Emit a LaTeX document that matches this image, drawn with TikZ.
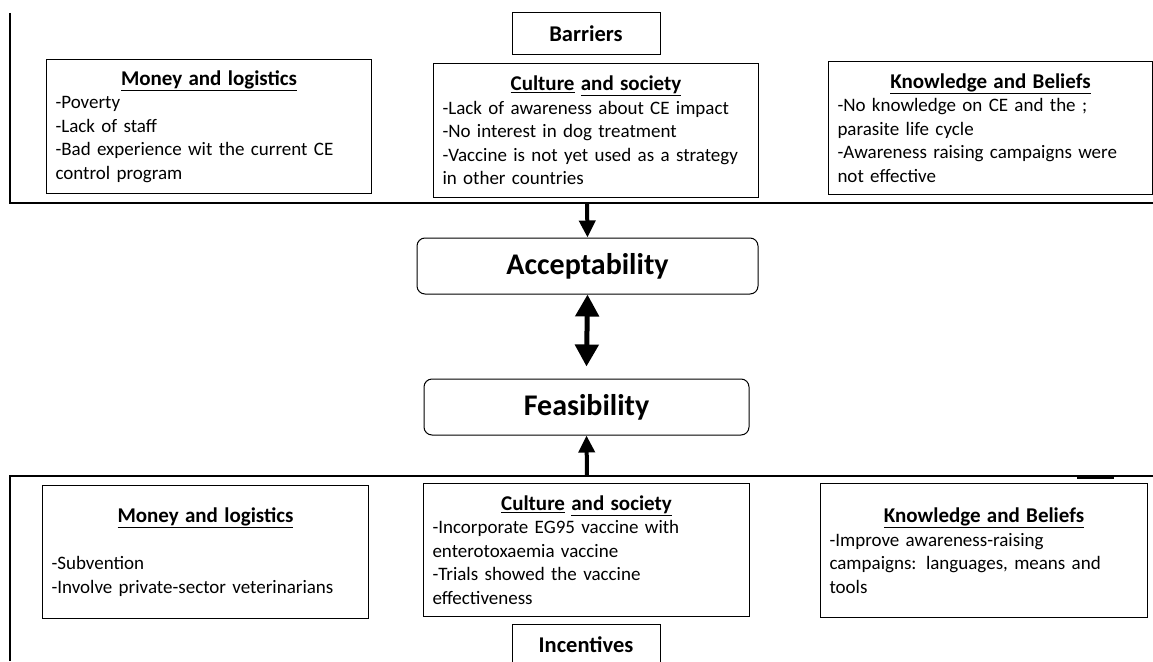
\documentclass[tikz,border=0pt]{standalone}
\usepackage{fontspec}
\setmainfont{Carlito}
\usetikzlibrary{arrows.meta,positioning}
\hyphenpenalty=10000
\exhyphenpenalty=10000

\tikzset{
  factorbox/.style={draw, line width=1pt, anchor=north west, inner sep=9pt, align=left,
    font=\fontsize{19}{23.5}\selectfont},
  titlebox/.style={draw, line width=1pt, minimum width=148pt, minimum height=42pt,
    font=\bfseries\fontsize{22.5}{25}\selectfont},
  outcome/.style={draw, rounded corners=8pt, line width=1pt, minimum height=56pt,
    font=\bfseries\fontsize{30}{34}\selectfont},
  bigarrow/.style={line width=4pt, -{Triangle[length=17pt,width=16pt]}},
  twoway/.style={line width=5pt, {Triangle[length=22pt,width=23pt]}-{Triangle[length=22pt,width=23pt]}},
}
\newcommand{\boxhead}[1]{\makebox[\linewidth]{\fontsize{21}{23.5}\selectfont\textbf{#1}}}

\begin{document}
\begin{tikzpicture}[x=1pt,y=-1pt]
		\useasboundingbox (0,0) rectangle (1153,661);
		%\draw[help lines] (0,0) grid (1153,661);
		% barriers side
		\draw[line width=1.5pt] (10,13) -- (10,203) -- (1153,203);
		\node[titlebox] (barriers) at (586,34) {Barriers};
		\node[factorbox, text width=307pt, minimum height=134pt] (moneytop) at (46,59) {\boxhead{\underline{Money and logistics}}\\
			-Poverty\\ -Lack of staff\\ -Bad experience wit the current CE\\ control program};
		\node[factorbox, text width=307pt, minimum height=134pt] (culturetop) at (433,63) {\boxhead{\underline{Culture} \underline{and society}}\\
			-Lack of awareness about CE impact\\ -No interest in dog treatment\\ -Vaccine is not yet used as a strategy\\ in other countries};
		\node[factorbox, text width=306pt, minimum height=133pt] (knowtop) at (828,61) {\boxhead{\underline{Knowledge and Beliefs}}\\
			-No knowledge on CE and the ;\\ parasite life cycle\\ -Awareness raising campaigns were\\ not effective};

		% middle
		\node[outcome, minimum width=341pt] (accept) at (587.5,266) {Acceptability};
		\node[outcome, minimum width=325pt] (feas) at (586.5,407) {Feasibility};
		\coordinate (topline) at (587,203);
		\coordinate (botline) at (587,476);
		\draw[bigarrow] (topline) -- (accept.north);
		\draw[twoway] (accept.south) -- ([yshift=12pt]feas.north);
		\draw[bigarrow] (botline) -- (feas.south);

		% incentives side
		\draw[line width=1.2pt] (10,661) -- (10,476) -- (1153,476);
		\draw[line width=3pt] (1077,477.5) -- (1114,477.5);
		\node[factorbox, text width=308pt, minimum height=133pt] (moneybot) at (42,485) {\boxhead{\underline{Money and logistics}}\\[24pt]
			-Subvention\\ -Involve private-sector veterinarians};
		\node[factorbox, text width=308pt, minimum height=133pt] (culturebot) at (423,483) {\boxhead{\underline{Culture} \underline{and society}}\\
			-Incorporate EG95 vaccine with\\ enterotoxaemia vaccine\\ -Trials showed the vaccine\\ effectiveness};
		\node[factorbox, text width=309pt, minimum height=134pt] (knowbot) at (820,483) {\boxhead{\underline{Knowledge and Beliefs}}\\
			-Improve awareness-raising\\ campaigns: languages, means and\\ tools};
		\node[titlebox] (incentives) at (586,645) {Incentives};
\end{tikzpicture}
\end{document}
